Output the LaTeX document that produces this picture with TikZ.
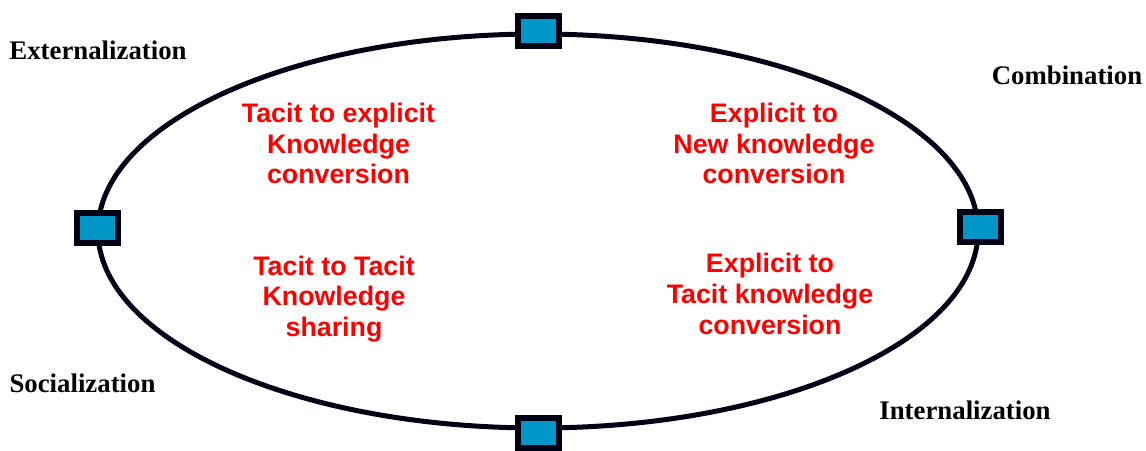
\documentclass[tikz,border=0pt]{standalone}
\usepackage{fontspec}
\setmainfont{Liberation Serif}
\newfontfamily\arialfont{Liberation Sans}
\definecolor{portfill}{HTML}{0096C8}
\definecolor{portline}{HTML}{000014}
\definecolor{modetext}{HTML}{FF0000}
\tikzset{
  port/.style={draw=portline, fill=portfill, line width=6pt, minimum width=41pt, minimum height=30pt, inner sep=0pt},
  ring/.style={draw=portline, line width=5pt},
  phase/.style={font=\fontsize{26.8}{30}\selectfont\bfseries, text=black, inner sep=0pt},
  mode/.style={font=\arialfont\fontsize{26.8}{30.8}\selectfont\bfseries, text=modetext, align=center, inner sep=0pt}
}
\begin{document}
\begin{tikzpicture}[x=1pt,y=-1pt]
\useasboundingbox (0,0) rectangle (1146,450);
\draw[ring] (538,231) ellipse [x radius=440, y radius=197];
\node[port] (ptop) at (538,30.5) {};
\node[port] (pbottom) at (538,433) {};
\node[port] (pleft) at (97.5,227.5) {};
\node[port] (pright) at (980.5,227) {};
\node[phase] (ext) at (98,50) {Externalization};
\node[phase] (comb) at (1067,75) {Combination};
\node[phase] (soc) at (82.5,383) {Socialization};
\node[phase] (int) at (965,410) {Internalization};
\node[mode] (m1) at (338.5,143.5) {Tacit to explicit\\Knowledge\\conversion};
\node[mode] (m2) at (774,143.5) {Explicit to\\New knowledge\\conversion};
\node[mode] (m3) at (334,299) {Tacit to Tacit\\Knowledge\\sharing};
\node[mode] (m4) at (770,294) {Explicit to\\Tacit knowledge\\conversion};
\end{tikzpicture}
\end{document}
